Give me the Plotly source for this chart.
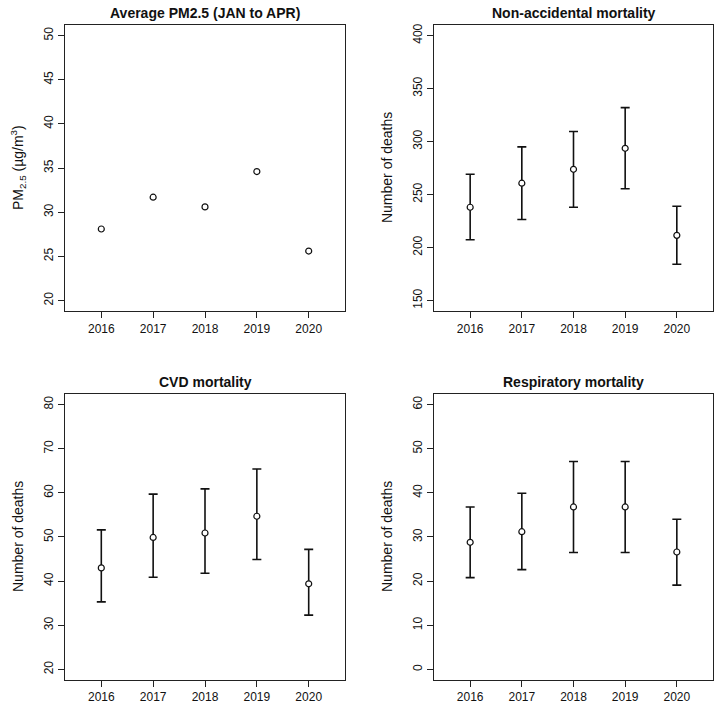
import plotly.graph_objects as go

years = [2016, 2017, 2018, 2019, 2020]

pm25 = [28.1, 31.7, 30.6, 34.6, 25.6]

nonacc_mean = [238, 260.7, 273.8, 293.6, 211.5]
nonacc_upper = [269.2, 295, 309.4, 332, 239]
nonacc_lower = [207.3, 226.4, 238, 255.4, 184.3]

cvd_mean = [43.0, 49.9, 50.9, 54.7, 39.4]
cvd_upper = [51.6, 59.7, 60.9, 65.4, 47.2]
cvd_lower = [35.3, 40.9, 41.8, 44.9, 32.3]

resp_mean = [28.8, 31.2, 36.8, 36.8, 26.6]
resp_upper = [36.8, 39.9, 47.1, 47.1, 34.0]
resp_lower = [20.8, 22.6, 26.5, 26.5, 19.1]

titles = ["Average PM2.5 (JAN to APR)", "Non-accidental mortality",
          "CVD mortality", "Respiratory mortality"]
ytitles = ["PM<sub>2.5</sub> (µg/m<sup>3</sup>)", "Number of deaths",
           "Number of deaths", "Number of deaths"]
ylims = [(20, 50), (150, 400), (20, 80), (0, 60)]
yticks = [[20, 25, 30, 35, 40, 45, 50],
          [150, 200, 250, 300, 350, 400],
          [20, 30, 40, 50, 60, 70, 80],
          [0, 10, 20, 30, 40, 50, 60]]

W, H = 720, 711
boxes = [  # left, right, top, bottom in px
    (65, 345, 23, 310),
    (434, 713, 23, 310),
    (65, 345, 393, 680),
    (434, 713, 393, 680),
]

FONT = "Liberation Sans, Arial, sans-serif"
fig = go.Figure()

series = [
    (pm25, None, None),
    (nonacc_mean, nonacc_upper, nonacc_lower),
    (cvd_mean, cvd_upper, cvd_lower),
    (resp_mean, resp_upper, resp_lower),
]

annotations = []
for i, ((mean, up, lo), box) in enumerate(zip(series, boxes)):
    n = "" if i == 0 else str(i + 1)
    err = None
    if up is not None:
        err = dict(type="data", symmetric=False,
                   array=[u - m for u, m in zip(up, mean)],
                   arrayminus=[m - l for m, l in zip(mean, lo)],
                   color="#111", thickness=1.6, width=4.5)
    fig.add_trace(go.Scatter(
        x=years, y=mean, mode="markers", xaxis="x" + n, yaxis="y" + n,
        marker=dict(symbol="circle", size=6, color="white",
                    line=dict(color="#111", width=1.2)),
        error_y=err, showlegend=False))
    l, r, t, b = box
    ext_x = 5 * 0.04
    y0, y1 = ylims[i]
    ext_y = (y1 - y0) * 0.04
    axcommon = dict(showline=True, mirror=True, linecolor="#222", linewidth=1,
                    showgrid=False, zeroline=False, ticks="outside",
                    ticklen=6, tickcolor="#222", tickwidth=1,
                    tickfont=dict(family=FONT, size=12, color="#111"))
    fig.update_layout(**{
        "xaxis" + n: dict(domain=[l / W, r / W], anchor="y" + n,
                          range=[2015.5 - ext_x, 2020.5 + ext_x],
                          tickvals=years, ticktext=[str(y) for y in years],
                          **axcommon),
        "yaxis" + n: dict(domain=[1 - b / H, 1 - t / H], anchor="x" + n,
                          range=[y0 - ext_y, y1 + ext_y],
                          tickvals=yticks[i], tickangle=-90,
                          **axcommon),
    })
    annotations.append(dict(text="<b>" + titles[i] + "</b>", xref="paper", yref="paper",
                            x=(l + r) / 2 / W, y=1 - (t - 12) / H,
                            xanchor="center", yanchor="middle", showarrow=False,
                            font=dict(family=FONT, size=14, color="#111")))
    annotations.append(dict(text=ytitles[i], xref="paper", yref="paper",
                            x=(l - 47) / W, y=1 - (t + b) / 2 / H, textangle=-90,
                            xanchor="center", yanchor="middle", showarrow=False,
                            font=dict(family=FONT, size=14, color="#111")))

fig.update_layout(width=W, height=H, margin=dict(l=0, r=0, t=0, b=0),
                  paper_bgcolor="white", plot_bgcolor="white",
                  annotations=annotations)
fig.write_html("out.html", config={"displayModeBar": False},
               post_script="document.body.style.margin='0';document.body.style.overflow='hidden';")
